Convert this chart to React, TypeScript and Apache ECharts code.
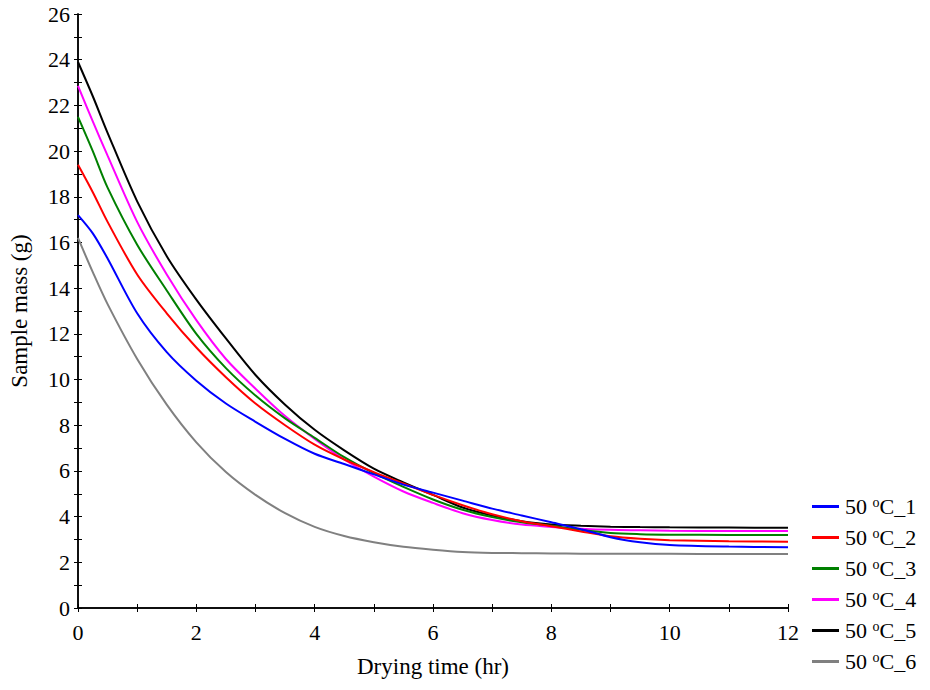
import React, { useEffect, useRef } from "react";
import * as echarts from "echarts";

const times = [0, 0.25, 0.5, 1, 1.5, 2, 2.5, 3, 3.5, 4, 4.5, 5, 5.5, 6, 6.5, 7, 7.5, 8, 8.5, 9, 9.5, 10, 11, 12];

const seriesNames = ["50 oC_1", "50 oC_2", "50 oC_3", "50 oC_4", "50 oC_5", "50 oC_6"];
const seriesColors = ["#0000ff", "#ff0000", "#008000", "#ff00ff", "#000000", "#808080"];

const mass1 = [17.2, 16.4, 15.3, 12.9, 11.2, 9.95, 8.95, 8.15, 7.4, 6.75, 6.3, 5.85, 5.4, 5.05, 4.7, 4.35, 4.05, 3.75, 3.45, 3.1, 2.88, 2.76, 2.69, 2.66];
const mass2 = [19.4, 18.2, 16.9, 14.6, 12.9, 11.4, 10.1, 8.95, 8.0, 7.15, 6.5, 5.95, 5.45, 4.95, 4.5, 4.1, 3.8, 3.58, 3.35, 3.14, 3.03, 2.97, 2.92, 2.9];
const mass3 = [21.5, 20.0, 18.4, 15.9, 13.9, 12.0, 10.5, 9.3, 8.3, 7.45, 6.6, 5.9, 5.3, 4.75, 4.3, 3.98, 3.75, 3.6, 3.42, 3.28, 3.23, 3.21, 3.2, 3.19];
const mass4 = [22.85, 21.3, 19.8, 16.9, 14.6, 12.6, 10.9, 9.6, 8.4, 7.4, 6.5, 5.75, 5.1, 4.6, 4.15, 3.85, 3.65, 3.55, 3.47, 3.42, 3.4, 3.38, 3.37, 3.37];
const mass5 = [23.9, 22.4, 20.8, 17.8, 15.4, 13.5, 11.8, 10.2, 8.9, 7.8, 6.9, 6.1, 5.5, 4.95, 4.4, 4.05, 3.8, 3.66, 3.6, 3.56, 3.54, 3.53, 3.52, 3.51];
const mass6 = [16.2, 14.7, 13.3, 10.9, 8.9, 7.25, 5.95, 4.95, 4.15, 3.55, 3.15, 2.88, 2.68, 2.55, 2.45, 2.41, 2.4, 2.39, 2.38, 2.38, 2.37, 2.37, 2.36, 2.36];

const allMass = [mass1, mass2, mass3, mass4, mass5, mass6];

const xTitle = "Drying time (hr)";
const yTitle = "Sample mass (g)";

const FONT = "'Liberation Serif', 'Times New Roman', serif";

export default function App() {
  const ref = useRef<HTMLDivElement>(null);

  useEffect(() => {
    document.body.style.margin = "0";
    if (!ref.current) return;
    const chart = echarts.init(ref.current, null, { renderer: "svg" });

    const evenFmt = (v: number) => (Math.round(v) % 2 === 0 ? String(Math.round(v)) : "");

    const tickStyle = { show: true, inside: true, length: 4, lineStyle: { color: "#000", width: 1 } };
    const lineStyle = { show: true, lineStyle: { color: "#000", width: 1.5 } };

    const option: any = {
      animation: false,
      backgroundColor: "#fff",
      textStyle: { fontFamily: FONT },
      grid: { left: 78, right: 142, top: 14, bottom: 82, containLabel: false },
      legend: {
        orient: "vertical",
        left: 807,
        top: 490,
        itemWidth: 27,
        itemHeight: 3,
        itemGap: 8,
        icon: "rect",
        data: seriesNames,
        formatter: (name: string) => name.replace("50 oC", "50 {sup|o}C"),
        textStyle: {
          fontFamily: FONT,
          fontSize: 22,
          color: "#000",
          lineHeight: 23,
          padding: [0, 0, 0, 1],
          rich: {
            sup: { fontFamily: FONT, fontSize: 14, color: "#000", padding: [0, 0, 9, 0] },
          },
        },
      },
      xAxis: [
        {
          type: "value",
          min: 0,
          max: 12,
          interval: 1,
          position: "bottom",
          name: xTitle,
          nameLocation: "middle",
          nameGap: 47,
          nameTextStyle: { fontFamily: FONT, fontSize: 23, color: "#000" },
          axisLine: lineStyle,
          axisTick: tickStyle,
          splitLine: { show: false },
          axisLabel: { formatter: evenFmt, fontFamily: FONT, fontSize: 22, color: "#000", margin: 13 },
        },
        {
          type: "value",
          min: 0,
          max: 12,
          interval: 1,
          position: "top",
          axisLine: lineStyle,
          axisTick: tickStyle,
          splitLine: { show: false },
          axisLabel: { show: false },
        },
      ],
      yAxis: [
        {
          type: "value",
          min: 0,
          max: 26,
          interval: 1,
          position: "left",
          name: yTitle,
          nameLocation: "middle",
          nameGap: 47,
          nameTextStyle: { fontFamily: FONT, fontSize: 23, color: "#000" },
          axisLine: lineStyle,
          axisTick: tickStyle,
          splitLine: { show: false },
          axisLabel: { formatter: evenFmt, fontFamily: FONT, fontSize: 22, color: "#000", margin: 8 },
        },
        {
          type: "value",
          min: 0,
          max: 26,
          interval: 1,
          position: "right",
          axisLine: lineStyle,
          axisTick: tickStyle,
          splitLine: { show: false },
          axisLabel: { show: false },
        },
      ],
      series: allMass.map((vals, i) => ({
        name: seriesNames[i],
        type: "line",
        xAxisIndex: 0,
        yAxisIndex: 0,
        data: vals.map((v, j) => [times[j], v]),
        smooth: 0.3,
        symbol: "none",
        showSymbol: false,
        lineStyle: { color: seriesColors[i], width: 2 },
        itemStyle: { color: seriesColors[i] },
        z: 10 - i,
      })),
    };

    chart.setOption(option);
    return () => chart.dispose();
  }, []);

  return <div ref={ref} style={{ width: 930, height: 690 }} />;
}
